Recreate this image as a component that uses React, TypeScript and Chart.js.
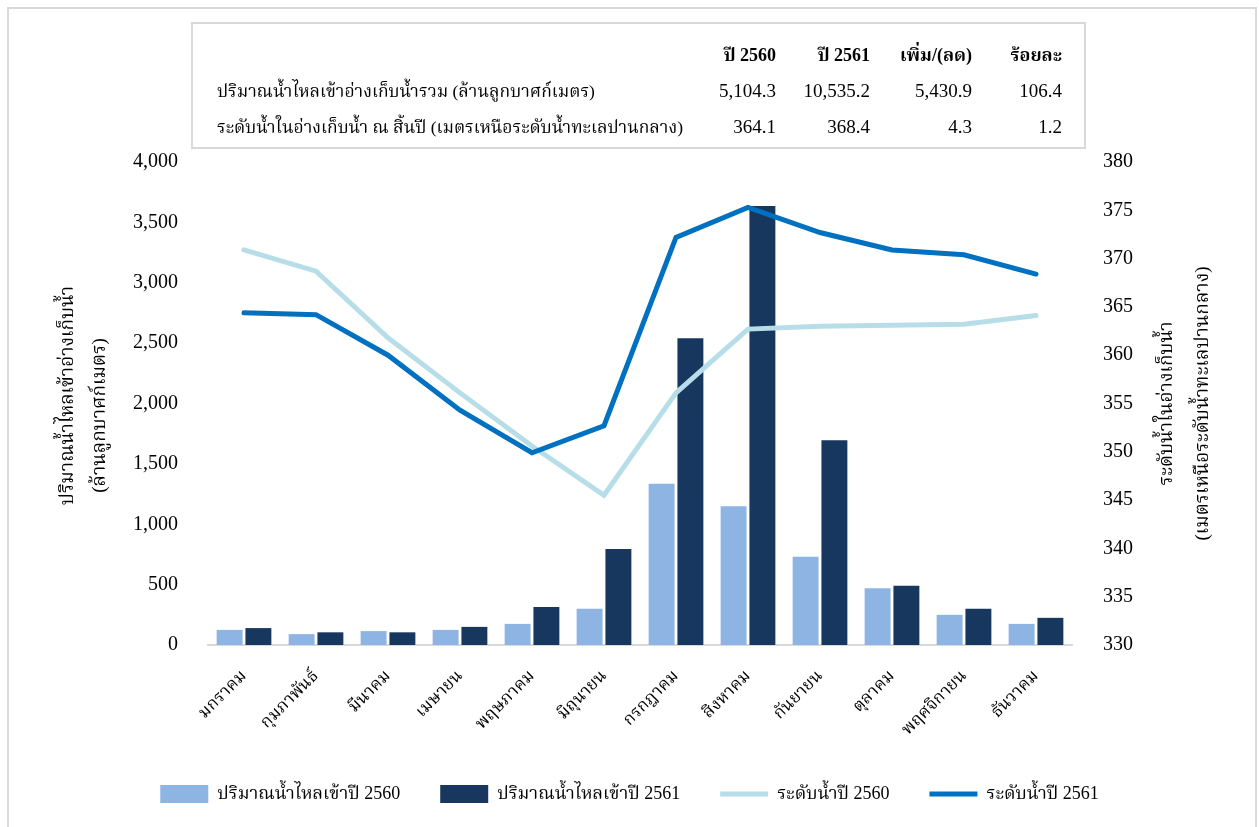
import React, { useEffect, useRef } from "react";
import { Chart, registerables } from "chart.js";

Chart.register(...registerables);

const FONT =
  "'Liberation Serif', 'Times New Roman', 'Angsana New', 'TH Sarabun New', Norasi, Kinnari, 'Noto Serif Thai', serif";

const months = [
  "มกราคม",
  "กุมภาพันธ์",
  "มีนาคม",
  "เมษายน",
  "พฤษภาคม",
  "มิถุนายน",
  "กรกฎาคม",
  "สิงหาคม",
  "กันยายน",
  "ตุลาคม",
  "พฤศจิกายน",
  "ธันวาคม",
];

const inflow2560 = [125, 90, 115, 125, 175, 300, 1335, 1150, 730, 470, 250, 175];
const inflow2561 = [140, 105, 105, 150, 315, 795, 2540, 3635, 1695, 490, 300, 225];
const level2560 = [370.9, 368.7, 361.8, 356.1, 350.6, 345.5, 356.1, 362.7, 363.0, 363.1, 363.2, 364.1];
const level2561 = [364.4, 364.2, 360.0, 354.3, 349.9, 352.7, 372.2, 375.3, 372.7, 370.9, 370.4, 368.4];

const seriesNames = [
  "ปริมาณน้ำไหลเข้าปี 2560",
  "ปริมาณน้ำไหลเข้าปี 2561",
  "ระดับน้ำปี 2560",
  "ระดับน้ำปี 2561",
];

const leftTitle = ["ปริมาณน้ำไหลเข้าอ่างเก็บน้ำ", "(ล้านลูกบาศก์เมตร)"];
const rightTitle = ["ระดับน้ำในอ่างเก็บน้ำ", "(เมตรเหนือระดับน้ำทะเลปานกลาง)"];

const tableHeaders = ["ปี 2560", "ปี 2561", "เพิ่ม/(ลด)", "ร้อยละ"];
const tableRowLabels = [
  "ปริมาณน้ำไหลเข้าอ่างเก็บน้ำรวม (ล้านลูกบาศก์เมตร)",
  "ระดับน้ำในอ่างเก็บน้ำ ณ สิ้นปี (เมตรเหนือระดับน้ำทะเลปานกลาง)",
];
const tableRow1 = ["5,104.3", "10,535.2", "5,430.9", "106.4"];
const tableRow2 = ["364.1", "368.4", "4.3", "1.2"];

const axisTitlePlugin = {
  id: "axisTitlesCustom",
  afterDraw(chart: any) {
    const ctx = chart.ctx;
    const { top, bottom } = chart.chartArea;
    const cy = (top + bottom) / 2;
    const yL = chart.scales.y;
    const yR = chart.scales.y1;
    ctx.save();
    ctx.font = `19px ${FONT}`;
    ctx.fillStyle = "#000";
    ctx.textAlign = "center";
    ctx.textBaseline = "middle";
    const draw = (text: string, x: number, y: number) => {
      ctx.save();
      ctx.translate(x, y);
      ctx.rotate(-Math.PI / 2);
      ctx.fillText(text, 0, 0);
      ctx.restore();
    };
    draw(leftTitle[0], yL.left + 68, cy - 8);
    draw(leftTitle[1], yL.left + 100, cy + 12);
    draw(rightTitle[0], yR.left + 95, cy);
    draw(rightTitle[1], yR.left + 131, cy);
    ctx.restore();
  },
};

export default function App() {
  const canvasRef = useRef<HTMLCanvasElement | null>(null);

  useEffect(() => {
    if (!canvasRef.current) return;
    const chart = new Chart(canvasRef.current, {
      type: "bar",
      data: {
        labels: months,
        datasets: [
          {
            type: "bar",
            label: seriesNames[0],
            data: inflow2560,
            backgroundColor: "#8db4e2",
            yAxisID: "y",
            order: 2,
            pointStyle: "rect",
          },
          {
            type: "bar",
            label: seriesNames[1],
            data: inflow2561,
            backgroundColor: "#17375e",
            yAxisID: "y",
            order: 2,
            pointStyle: "rect",
          },
          {
            type: "line",
            label: seriesNames[2],
            data: level2560,
            borderColor: "#b7dee8",
            backgroundColor: "#b7dee8",
            borderWidth: 5,
            borderCapStyle: "round",
            borderJoinStyle: "miter",
            pointRadius: 0,
            pointStyle: "line",
            tension: 0,
            yAxisID: "y1",
            order: 1,
          },
          {
            type: "line",
            label: seriesNames[3],
            data: level2561,
            borderColor: "#0070c0",
            backgroundColor: "#0070c0",
            borderWidth: 5,
            borderCapStyle: "round",
            borderJoinStyle: "miter",
            pointRadius: 0,
            pointStyle: "line",
            tension: 0,
            yAxisID: "y1",
            order: 0,
          },
        ] as any,
      },
      options: {
        responsive: false,
        animation: false,
        layout: { padding: { top: 162, left: 0, right: 0, bottom: 14 } },
        plugins: {
          tooltip: { enabled: false },
          legend: {
            position: "bottom",
            labels: {
              usePointStyle: true,
              pointStyleWidth: 48,
              boxHeight: 18,
              padding: 40,
              color: "#000",
              font: { family: FONT, size: 18 },
              sort: (a: any, b: any) => a.datasetIndex - b.datasetIndex,
            },
          } as any,
        },
        scales: {
          x: {
            grid: { display: false, drawTicks: false },
            border: { display: true, color: "#d9d9d9", width: 2 },
            categoryPercentage: 0.66,
            barPercentage: 1,
            ticks: {
              color: "#000",
              font: { family: FONT, size: 17 },
              maxRotation: 45,
              minRotation: 45,
              padding: 21,
              autoSkip: false,
            },
            afterFit: (scale: any) => {
              scale.height = 100;
            },
          } as any,
          y: {
            position: "left",
            min: 0,
            max: 4000,
            grid: { display: false, drawTicks: false },
            border: { display: false },
            ticks: {
              stepSize: 500,
              color: "#000",
              padding: 30,
              font: { family: FONT, size: 20 },
              callback: (v: any) => Number(v).toLocaleString("en-US"),
            },
            afterFit: (scale: any) => {
              scale.width = 208;
            },
          },
          y1: {
            position: "right",
            min: 330,
            max: 380,
            grid: { display: false, drawTicks: false },
            border: { display: false },
            ticks: {
              stepSize: 5,
              color: "#000",
              padding: 31,
              font: { family: FONT, size: 20 },
            },
            afterFit: (scale: any) => {
              scale.width = 187;
            },
          },
        },
      },
      plugins: [axisTitlePlugin],
    });
    return () => chart.destroy();
  }, []);

  const cell = (text: string, right: number, top: number, bold = false) => (
    <div
      key={`${text}-${right}-${top}`}
      style={{
        position: "absolute",
        right: 1259 - right,
        top: top,
        fontFamily: FONT,
        fontSize: bold ? 18 : 19,
        fontWeight: bold ? "bold" : "normal",
        lineHeight: "24px",
        whiteSpace: "nowrap",
        color: "#000",
      }}
    >
      {text}
    </div>
  );

  const colRights = [776, 870, 972, 1062];

  const rowLabelStyle: React.CSSProperties = {
    position: "absolute",
    left: 217,
    fontFamily: FONT,
    fontSize: 17.5,
    lineHeight: "24px",
    whiteSpace: "nowrap",
    color: "#000",
  };

  return (
    <div
      style={{
        position: "fixed",
        left: 0,
        top: 0,
        width: 1259,
        height: 827,
        background: "#fff",
        overflow: "hidden",
      }}
    >
      <div
        style={{
          position: "absolute",
          left: 7,
          top: 7,
          width: 1250,
          height: 840,
          border: "2px solid #d9d9d9",
          boxSizing: "border-box",
        }}
      />
      <canvas
        ref={canvasRef}
        width={1259}
        height={827}
        style={{ position: "absolute", left: 0, top: 0, width: 1259, height: 827 }}
      />
      <div
        style={{
          position: "absolute",
          left: 191,
          top: 22,
          width: 895,
          height: 127,
          border: "2px solid #d9d9d9",
          boxSizing: "border-box",
        }}
      />
      {tableHeaders.map((h, i) => cell(h, colRights[i], 43, true))}
      <div style={{ ...rowLabelStyle, top: 79 }}>{tableRowLabels[0]}</div>
      <div style={{ ...rowLabelStyle, top: 115 }}>{tableRowLabels[1]}</div>
      {tableRow1.map((v, i) => cell(v, colRights[i], 79))}
      {tableRow2.map((v, i) => cell(v, colRights[i], 115))}
    </div>
  );
}
